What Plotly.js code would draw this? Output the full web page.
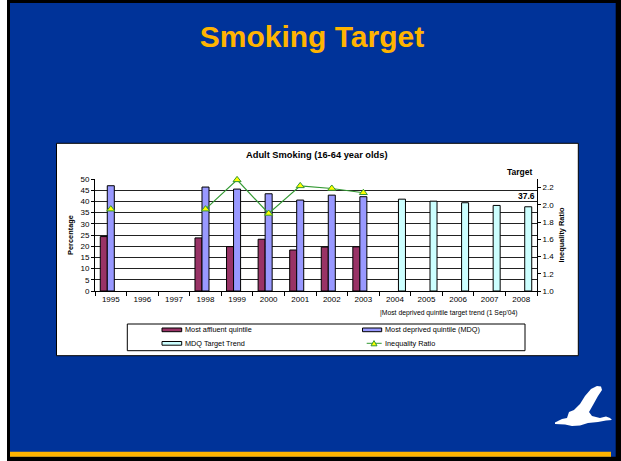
<!DOCTYPE html>
<html>
<head>
<meta charset="utf-8">
<script src="https://cdn.plot.ly/plotly-3.0.1.min.js"></script>
<style>html,body{margin:0;padding:0;background:#fff;}#chart{width:621px;height:461px;}</style>
</head>
<body>
<div id="chart"></div>
<script>
// ---- data ----
const years = ['1995','1996','1997','1998','1999','2000','2001','2002','2003','2004','2005','2006','2007','2008'];
const affluent = [24.3, null, null, 23.7, 19.8, 23.1, 18.3, 19.6, 19.7, null, null, null, null, null];
const deprived = [47.0, null, null, 46.4, 45.5, 43.4, 40.6, 42.8, 42.1, null, null, null, null, null];
const targetTrend = [null, null, null, null, null, null, null, null, null, 41.0, 40.1, 39.4, 38.2, 37.6];
const ratio = [1.95, null, null, 1.95, 2.29, 1.90, 2.22, 2.19, 2.14, null, null, null, null, null];
const seriesNames = ['Most affluent quintile', 'Most deprived quintile (MDQ)', 'MDQ Target Trend', 'Inequality Ratio'];
const slideTitle = 'Smoking Target';
const chartTitle = 'Adult Smoking (16-64 year olds)';
const noteText = "|Most deprived quintile target trend (1 Sep'04)";

// ---- layout geometry ----
const W = 621, H = 461, L = 95, R = 84, T = 179, B = 170;
const PW = W - L - R, PH = H - T - B;
const fx = p => (p - L) / PW;
const fy = p => (H - B - p) / PH;
const FONT = 'Liberation Sans, Arial, sans-serif';
const C = {maroon: '#993366', lilac: '#9999FF', cyan: '#CCFFFF', green: '#339933', yellow: '#FFFF00',
           blue: '#003399', orange: '#FFB400'};

function rect(x0, y0, x1, y1, fill, lineColor, lw) {
  return {type: 'rect', xref: 'paper', yref: 'paper', layer: 'below',
    x0: fx(x0), x1: fx(x1), y0: fy(y1), y1: fy(y0), fillcolor: fill,
    line: {color: lineColor || 'rgba(0,0,0,0)', width: lw || 0}};
}
function poly(pts, fill, lineColor, lw) {
  const d = pts.map((p, i) => (i ? 'L' : 'M') + fx(p[0]).toFixed(5) + ',' + fy(p[1]).toFixed(5)).join(' ') + ' Z';
  return {type: 'path', xref: 'paper', yref: 'paper', layer: 'below', path: d, fillcolor: fill,
    line: {color: lineColor || 'rgba(0,0,0,0)', width: lw || 0}};
}
function label(text, x, y, size, opts) {
  return Object.assign({xref: 'paper', yref: 'paper', x: fx(x), y: fy(y), text: text, showarrow: false,
    xanchor: 'left', yanchor: 'middle', font: {family: FONT, size: size, color: '#000'}}, opts || {});
}

const bird = [[555,422.5],[562,419],[567,418],[569,412],[574,410],[580,404],[585,396],[591,389],[597,386],
  [601,386.5],[602,390],[598,396],[593,405],[589,412],[592,416],[600,418],[606,416.5],[610,418],[612,420],
  [606,420.5],[598,422],[588,423],[580,425.5],[572,426],[565,424.5],[555,424]];

const shapes = [
  rect(7, 0, 621, 461, '#000'),
  rect(10, 3, 615.7, 456.7, C.blue),
  rect(10, 451.7, 611, 456.7, C.orange),
  rect(56.5, 143.3, 578.3, 355.7, '#fff', '#000', 1),
  rect(127.3, 324, 525, 350.7, '#fff', '#000', 1),
  rect(162, 328, 181.7, 331.7, C.maroon, '#000', 1),
  rect(362.5, 328, 381.7, 331.7, C.lilac, '#000', 1),
  rect(162, 341.5, 181.7, 345.2, C.cyan, '#000', 1),
  {type: 'line', xref: 'paper', yref: 'paper', layer: 'below', x0: fx(366.7), x1: fx(381.7), y0: fy(343.3), y1: fy(343.3),
    line: {color: C.green, width: 1}},
  poly([[371, 345.8], [377, 345.8], [374, 340.6]], C.yellow, C.green, 1),
  poly(bird, '#fff')
];

const annotations = [
  label('<b>' + chartTitle + '</b>', 316.5, 155, 9.3, {xanchor: 'center'}),
  label('<b>Target</b>', 534.5, 172, 8.5, {xanchor: 'right'}),
  {xref: 'x', yref: 'y', x: years.length - 1, y: targetTrend[targetTrend.length - 1], text: '<b>' + targetTrend[targetTrend.length - 1].toFixed(1) + '</b>',
    showarrow: false, xanchor: 'center', yanchor: 'bottom', xshift: 5, yshift: 4, font: {family: FONT, size: 8.5, color: '#000'}},
  label(noteText, 378, 313, 6.8),
  label(seriesNames[0], 183.3, 329.7, 7.3),
  label(seriesNames[1], 383, 329.7, 7.3),
  label(seriesNames[2], 183.3, 343.3, 7.3),
  label(seriesNames[3], 383, 343.3, 7.3)
];

const barLine = {color: '#000', width: 1};
const data = [
  {type: 'bar', name: seriesNames[0], x: years, y: affluent, marker: {color: C.maroon, line: barLine}, showlegend: false},
  {type: 'bar', name: seriesNames[1], x: years, y: deprived, marker: {color: C.lilac, line: barLine}, showlegend: false},
  {type: 'bar', name: seriesNames[2], x: years, y: targetTrend, marker: {color: C.cyan, line: barLine}, showlegend: false},
  {type: 'scatter', mode: 'lines+markers', name: seriesNames[3], x: years, y: ratio, yaxis: 'y2', connectgaps: false,
    cliponaxis: false,
    line: {color: C.green, width: 1.2},
    marker: {symbol: 'triangle-up', size: 7, color: C.yellow, line: {color: C.green, width: 1}}, showlegend: false}
];

const tickFont = {family: FONT, size: 8, color: '#000'};
const layout = {
  width: W, height: H,
  margin: {l: L, r: R, t: T, b: B, pad: 0},
  paper_bgcolor: '#fff', plot_bgcolor: 'rgba(0,0,0,0)',
  barmode: 'group', bargap: 0.333, bargroupgap: 0,
  showlegend: false,
  title: {text: slideTitle, xref: 'container', yref: 'container', x: 312 / W, y: 1 - 36 / H,
    xanchor: 'center', yanchor: 'middle', font: {family: FONT, size: 30, color: C.orange, weight: 'bold'}},
  xaxis: {type: 'category', range: [-0.5, years.length - 0.5], showgrid: false, showline: true, linecolor: '#000', linewidth: 1,
    ticks: 'outside', tickson: 'boundaries', ticklen: 4, tickcolor: '#000', tickfont: tickFont, fixedrange: true},
  yaxis: {range: [0, 50], dtick: 5, tick0: 0, showgrid: true, gridcolor: '#222', gridwidth: 1, zeroline: false,
    showline: true, linecolor: '#000', linewidth: 1, ticks: 'outside', ticklen: 3, tickcolor: '#000', tickfont: tickFont,
    title: {text: '<b>Percentage</b>', font: {family: FONT, size: 7.4, color: '#000'}, standoff: 5}},
  yaxis2: {overlaying: 'y', side: 'right', range: [1, 2.3], tick0: 1, dtick: 0.2, tickformat: '.1f', showgrid: false,
    zeroline: false, showline: true, linecolor: '#000', linewidth: 1, ticks: 'outside', ticklen: 3, tickcolor: '#000',
    tickfont: tickFont,
    title: {text: '<b>Inequality Ratio</b>', font: {family: FONT, size: 7.4, color: '#000'}, standoff: 5}},
  shapes: shapes,
  annotations: annotations
};

Plotly.newPlot('chart', data, layout, {displayModeBar: false, staticPlot: true});
</script>
</body>
</html>
